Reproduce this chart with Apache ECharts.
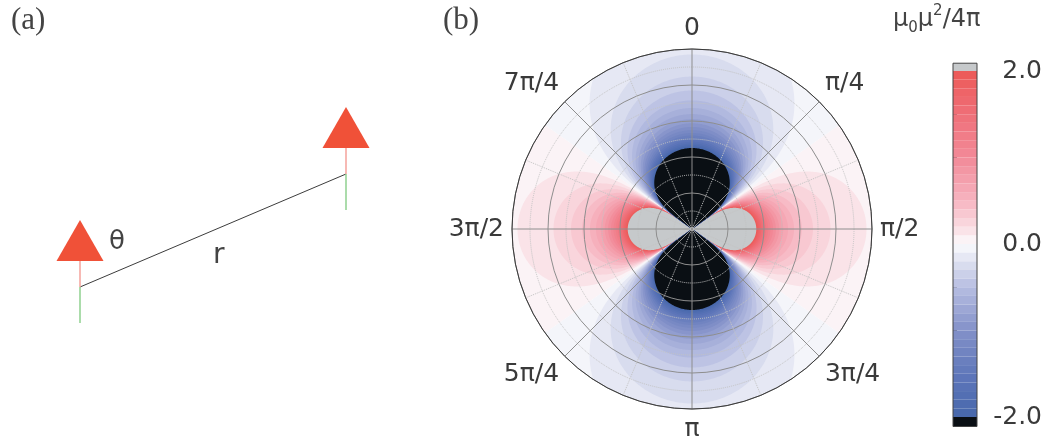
<!DOCTYPE html>
<html><head><meta charset="utf-8">
<script src="https://cdn.jsdelivr.net/npm/echarts@6/dist/echarts.min.js"></script>
<style>html,body{margin:0;padding:0;background:#fff}#c{width:1048px;height:442px}</style>
</head><body><div id="c"></div>
<script>
// ---------- data ----------
// Panel (b): dipole–dipole energy E(r,θ) = C·(1 − 3cos²θ)/r³  (units μ0μ²/4π)
const angleLabels = ['0', 'π/4', 'π/2', '3π/4', 'π', '5π/4', '3π/2', '7π/4'];
const couplingC = 11.39;            // E = −2 at r = 2.25 along θ = 0
const radiusMax = 5;                // outer ring of the polar plot (5 rings)
const positiveLevels = [0.0, 0.1, 0.2, 0.3, 0.4, 0.5, 0.6, 0.7, 0.8, 0.9, 1.0, 1.1, 1.2, 1.3, 1.4, 1.5, 1.6, 1.7, 1.8, 1.9];
const negativeLevels = [0.0, -0.1, -0.2, -0.3, -0.4, -0.5, -0.6, -0.7, -0.8, -0.9, -1.0, -1.1, -1.2, -1.3, -1.4, -1.5, -1.6, -1.7, -1.8, -1.9];
const saturationLevels = [2.0, -2.0];
const colorbarTicks = [-2.0, -1.5, -1.0, -0.5, 0.0, 0.5, 1.0, 1.5, 2.0];
const colorbarLabelValues = [-2.0, 0.0, 2.0];
// Panel (a): two dipoles (diagram units)
const dipoles = [[80, 287], [346, 174]];

// ---------- styles ----------
const cmapStops = [[-2, '#4767ac'], [-1.5, '#5f77ba'], [-1, '#8391c8'], [-0.5, '#b6bde1'], [-0.2, '#dfe2f1'], [0, '#fbfbfd'],
                   [0.2, '#fadbe1'], [0.5, '#f6b4c0'], [1, '#f28a98'], [1.5, '#ef6f78'], [2, '#ec5957']];
const overColor = '#c6c9cb', underColor = '#0a0f14';
function hex(c){return [1,3,5].map(i=>parseInt(c.substr(i,2),16));}
function cmap(v){
  if (v <= cmapStops[0][0]) return cmapStops[0][1];
  for (let i=1;i<cmapStops.length;i++){
    if (v <= cmapStops[i][0]){
      const [v0,c0]=cmapStops[i-1],[v1,c1]=cmapStops[i];
      const t=(v-v0)/(v1-v0), a=hex(c0), b=hex(c1);
      return 'rgb('+a.map((x,k)=>Math.round(x+(b[k]-x)*t)).join(',')+')';
    }
  }
  return cmapStops[cmapStops.length-1][1];
}
const FONT = 'DejaVu Sans';
const theta0 = Math.acos(1/Math.sqrt(3))*180/Math.PI;

function lobePolygon(api, a0, a1, level, color){
  const N = 220, pts = [api.coord([0,(a0+a1)/2])];
  for (let i=0;i<=N;i++){
    const a = a0+(a1-a0)*i/N;
    const f = 1-3*Math.pow(Math.cos(a*Math.PI/180),2);
    let r = level === 0 ? radiusMax : Math.cbrt(couplingC*Math.abs(f)/Math.abs(level));
    if (!(r < radiusMax)) r = radiusMax;
    pts.push(api.coord([r,a]));
  }
  return {type:'polygon', shape:{points:pts}, style:{fill:color, stroke:null}};
}
function fieldRender(params, api){
  const ch = [];
  const posRanges = [[theta0, 180-theta0],[180+theta0, 360-theta0]];
  const negRanges = [[-theta0, theta0],[180-theta0, 180+theta0]];
  positiveLevels.forEach(L=>posRanges.forEach(([a,b])=>ch.push(lobePolygon(api,a,b,L,cmap(L+0.05)))));
  posRanges.forEach(([a,b])=>ch.push(lobePolygon(api,a,b,saturationLevels[0],overColor)));
  negativeLevels.forEach(L=>negRanges.forEach(([a,b])=>ch.push(lobePolygon(api,a,b,L,cmap(L-0.05)))));
  negRanges.forEach(([a,b])=>ch.push(lobePolygon(api,a,b,saturationLevels[1],underColor)));
  return {type:'group', children:ch};
}
function colorbarRender(params, api){
  const ch = [];
  const rect = (lo,hi,fill,stroke)=>{
    const p1 = api.coord([0,hi]), p2 = api.coord([1,lo]);
    return {type:'rect', shape:{x:p1[0],y:p1[1],width:p2[0]-p1[0],height:p2[1]-p1[1]},
            style:{fill:fill, stroke:stroke||null, lineWidth:1}};
  };
  negativeLevels.forEach(L=>ch.push(rect(L-0.1, L, cmap(L-0.05))));
  positiveLevels.forEach(L=>ch.push(rect(L, L+0.1, cmap(L+0.05))));
  ch.push(rect(saturationLevels[0], saturationLevels[0]+0.09, overColor));
  ch.push(rect(saturationLevels[1]-0.11, saturationLevels[1], underColor));
  ch.push(rect(saturationLevels[1]-0.11, saturationLevels[0]+0.09, 'none', '#444'));
  return {type:'group', children:ch};
}
function dipoleRender(params, api){
  const p = api.coord([api.value(0), api.value(1)]);
  const x = p[0], y = p[1];
  return {type:'group', children:[
    {type:'line', shape:{x1:x,y1:y-26,x2:x,y2:y}, style:{stroke:'#f4a29b', lineWidth:1.5}},
    {type:'line', shape:{x1:x,y1:y,x2:x,y2:y+36}, style:{stroke:'#8fd08f', lineWidth:1.5}},
    {type:'polygon', shape:{points:[[x,y-67],[x-23.5,y-26],[x+23.5,y-26]]}, style:{fill:'#f05138'}}
  ]};
}

const chart = echarts.init(document.getElementById('c'), null, {renderer:'canvas'});
const minorDotted = {show:true, lineStyle:{color:'#c4c4c4', type:'dotted', width:1}};
const rs = {fontFamily:FONT, color:'#444', fontWeight:'normal'};
chart.setOption({
  animation:false,
  backgroundColor:'#fff',
  title:[
    {text:'(a)', left:6, top:0, textStyle:{fontFamily:'Liberation Serif', fontSize:31, fontWeight:'normal', color:'#444'}},
    {text:'(b)', left:438, top:0, textStyle:{fontFamily:'Liberation Serif', fontSize:31, fontWeight:'normal', color:'#444'}},
    {text:'{m|μ}{s|0}{m|μ}{p|2}{m|/4π}', left:888, top:-1,
     textStyle:{fontWeight:'normal', rich:{m:Object.assign({fontSize:24, lineHeight:32}, rs),
                      s:Object.assign({fontSize:15, verticalAlign:'bottom'}, rs),
                      p:Object.assign({fontSize:15, verticalAlign:'top'}, rs)}}}
  ],
  polar:{center:[692,229], radius:180},
  angleAxis:{type:'value', min:0, max:360, interval:45, startAngle:90, clockwise:true, z:3,
    axisLine:{lineStyle:{color:'#3a3a3a', width:1}}, axisTick:{show:false},
    axisLabel:{formatter:v=>angleLabels[Math.round(v/45)%8], fontFamily:FONT, fontSize:25, color:'#3a3a3a', margin:8},
    splitLine:{lineStyle:{color:'#8e8e8e', width:1}},
    minorTick:{show:false, splitNumber:2}, minorSplitLine:minorDotted},
  radiusAxis:{type:'value', min:0, max:radiusMax, interval:1, z:3,
    axisLine:{show:false}, axisTick:{show:false}, axisLabel:{show:false},
    splitLine:{lineStyle:{color:'#8e8e8e', width:1}},
    minorTick:{show:false, splitNumber:2}, minorSplitLine:minorDotted},
  grid:[
    {left:953, width:24, top:71, height:346, show:false},
    {left:0, top:0, width:440, height:442, show:false}
  ],
  xAxis:[
    {gridIndex:0, type:'value', min:0, max:1, show:false},
    {gridIndex:1, type:'value', min:0, max:440, show:false}
  ],
  yAxis:[
    {gridIndex:0, type:'value', min:-2, max:2, interval:0.5, position:'right',
     axisLine:{show:false}, splitLine:{show:false},
     axisTick:{show:true, length:4, lineStyle:{color:'#555'}},
     axisLabel:{margin:65, align:'right', fontFamily:FONT, fontSize:25, color:'#3a3a3a',
       formatter:v=>colorbarLabelValues.some(x=>Math.abs(x-v)<1e-9)?v.toFixed(1):''}},
    {gridIndex:1, type:'value', min:0, max:442, inverse:true, show:false}
  ],
  graphic:[
    {type:'text', left:109, top:229, style:{text:'θ', font:'26px "DejaVu Sans"', fill:'#444'}},
    {type:'text', left:213, top:242, style:{text:'r', font:'28px "DejaVu Sans"', fill:'#444'}}
  ],
  series:[
    {type:'custom', coordinateSystem:'polar', data:[[0,0]], renderItem:fieldRender, silent:true, z:1},
    {type:'custom', coordinateSystem:'cartesian2d', xAxisIndex:0, yAxisIndex:0, data:[[0,0]], renderItem:colorbarRender, clip:false, silent:true},
    {type:'line', xAxisIndex:1, yAxisIndex:1, data:dipoles, symbol:'none', lineStyle:{color:'#3c3c3c', width:1}, silent:true, z:1},
    {type:'custom', coordinateSystem:'cartesian2d', xAxisIndex:1, yAxisIndex:1, data:dipoles, renderItem:dipoleRender, clip:false, silent:true, z:2}
  ]
});
</script></body></html>
